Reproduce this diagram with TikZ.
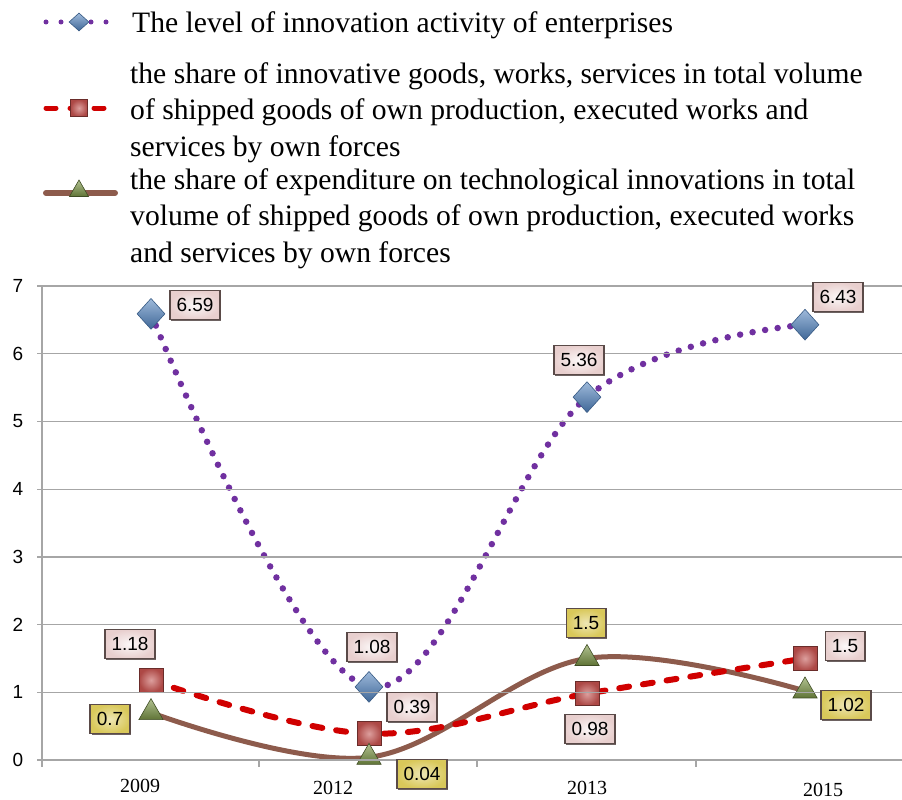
\documentclass[tikz,border=0pt]{standalone}
\usepackage{fontspec}
\setmainfont{Liberation Serif}
\setsansfont{Liberation Sans}
\usetikzlibrary{shapes.geometric}
\usetikzlibrary{shadows}
\pgfdeclarelayer{edgelayer}
\pgfdeclarelayer{nodelayer}
\pgfsetlayers{edgelayer,nodelayer,main}
\definecolor{innovpurple}{HTML}{7030A0}
\definecolor{sharered}{HTML}{D00000}
\definecolor{expendbrown}{HTML}{8D5B4C}
\definecolor{gridgray}{HTML}{A6A6A6}
\definecolor{diamondblue}{HTML}{4F81BD}
\definecolor{squarered}{HTML}{C0504D}
\definecolor{triangleolive}{HTML}{7F9A48}
\definecolor{labelpink}{HTML}{E8CFCE}
\definecolor{labelyellow}{HTML}{D9C85A}
\definecolor{labelborder}{HTML}{5A4A48}
\tikzstyle{grid_line}=[draw=gridgray,line width=1.3pt]
\tikzstyle{innov_line}=[draw=innovpurple,line width=6.5pt,line cap=round,dash pattern=on 0pt off 12.7pt]
\tikzstyle{share_line}=[draw=sharered,line width=6pt,line cap=round,dash pattern=on 10pt off 14pt]
\tikzstyle{expend_line}=[draw=expendbrown,line width=5pt]
\tikzstyle{diamond_mark}=[diamond,inner sep=0pt,minimum width=28pt,minimum height=31pt,top color=diamondblue!55!white,bottom color=diamondblue!80!black,draw=diamondblue!70!black,line width=0.6pt]
\tikzstyle{square_mark}=[rectangle,inner sep=0pt,minimum size=24pt,inner color=squarered!55!white,outer color=squarered!90!black,draw=squarered!55!black,line width=0.6pt]
\tikzstyle{triangle_mark}=[regular polygon,regular polygon sides=3,inner sep=0pt,minimum size=28pt,top color=triangleolive!60!white,bottom color=triangleolive!75!black,draw=triangleolive!50!black,line width=0.6pt]
\tikzstyle{pink_label}=[rectangle,font=\sffamily\fontsize{19}{19}\selectfont,inner xsep=6.5pt,minimum height=29pt,inner color=white!85!labelpink,outer color=labelpink,draw=labelborder,line width=1.6pt,drop shadow={shadow xshift=1.4pt,shadow yshift=-1.4pt,fill=labelborder!80!black,opacity=0.8}]
\tikzstyle{yellow_label}=[pink_label,inner color=labelyellow!45!white,outer color=labelyellow]
\tikzstyle{legend_text}=[anchor=north west,align=left,inner sep=0pt,font=\fontsize{29.6}{36.5}\selectfont]

\begin{document}
\begin{tikzpicture}[x=1pt,y=-1pt]
	\useasboundingbox (0,0) rectangle (902,800);
	% grid and axes
	\foreach \v in {0,...,7} {
		\draw [style=grid_line] (37,{760-67.7*\v}) -- (902,{760-67.7*\v});
		\node [font=\sffamily\fontsize{19}{19}\selectfont] at (18,{760-67.7*\v}) {\v};
	}
	\draw [style=grid_line] (42,286) -- (42,767);
	\foreach \t in {259,477,696}
		\draw [style=grid_line] (\t,760) -- (\t,767);
	\node [font=\fontsize{20}{20}\selectfont] (30) at (140,786) {2009};
	\node [font=\fontsize{20}{20}\selectfont] (31) at (333,788) {2012};
	\node [font=\fontsize{20}{20}\selectfont] (32) at (587,788) {2013};
	\node [font=\fontsize{20}{20}\selectfont] (33) at (823,790) {2015};
	\begin{scope}[shift={(0,760)},y=67.7pt]
		\begin{pgfonlayer}{nodelayer}
			\node [style={diamond_mark}] (0) at (151, 6.59) {};
			\node [style={diamond_mark}] (1) at (369, 1.08) {};
			\node [style={diamond_mark}] (2) at (587, 5.36) {};
			\node [style={diamond_mark}] (3) at (805, 6.43) {};
			\node [style={square_mark}] (4) at (151, 1.18) {};
			\node [style={square_mark}] (5) at (369, 0.39) {};
			\node [style={square_mark}] (6) at (587, 0.98) {};
			\node [style={square_mark}] (7) at (805, 1.5) {};
			\node [style={triangle_mark}] (8) at (151, 0.7) {};
			\node [style={triangle_mark}] (9) at (369, 0.04) {};
			\node [style={triangle_mark}] (10) at (587, 1.5) {};
			\node [style={triangle_mark}] (11) at (805, 1.02) {};
		\end{pgfonlayer}
		\begin{pgfonlayer}{edgelayer}
			\draw [style=expend_line] plot [smooth, tension=0.6] coordinates {(8.center) (9.center) (10.center) (11.center)};
			\draw [style=share_line] plot [smooth, tension=0.6] coordinates {(4.center) (5.center) (6.center) (7.center)};
			\draw [style=innov_line] plot [smooth, tension=0.6] coordinates {(0.center) (1.center) (2.center) (3.center)};
		\end{pgfonlayer}
	\end{scope}
	% value labels
	\node [style={pink_label}] (12) at (195, 305) {6.59};
	\node [style={pink_label}] (13) at (372, 647) {1.08};
	\node [style={pink_label}] (14) at (579, 360) {5.36};
	\node [style={pink_label}] (15) at (838, 297) {6.43};
	\node [style={pink_label}] (16) at (130, 644) {1.18};
	\node [style={pink_label}] (17) at (412, 707) {0.39};
	\node [style={pink_label}] (18) at (590, 729) {0.98};
	\node [style={pink_label}] (19) at (845, 646) {1.5};
	\node [style={yellow_label}] (20) at (110, 719) {0.7};
	\node [style={yellow_label}] (21) at (422, 774) {0.04};
	\node [style={yellow_label}] (22) at (586, 623) {1.5};
	\node [style={yellow_label}] (23) at (846, 705) {1.02};
	% legend
	\coordinate (40) at (46, 22);
	\coordinate (41) at (113, 22);
	\coordinate (42) at (46, 108);
	\coordinate (43) at (113, 108);
	\coordinate (44) at (46, 193);
	\coordinate (45) at (115, 193);
	\draw [style=innov_line, line width=5pt, dash pattern=on 0pt off 15pt] (40) -- (41);
	\draw [style=share_line, line width=5pt] (42) -- (43);
	\draw [style=expend_line, line width=6pt, line cap=round] (44) -- (45);
	\node [style={diamond_mark}, minimum width=20pt, minimum height=18pt] (24) at (79, 22) {};
	\node [style={square_mark}, minimum size=17pt] (25) at (79, 108) {};
	\node [style={triangle_mark}, minimum size=22pt] (26) at (79, 191) {};
	\node [style={legend_text}] (27) at (132, 11) {The level of innovation activity of enterprises};
	\node [style={legend_text}] (28) at (130, 62) {the share of innovative goods, works, services in total volume\\of shipped goods of own production, executed works and\\services by own forces};
	\node [style={legend_text}] (29) at (130, 168) {the share of expenditure on technological innovations in total\\volume of shipped goods of own production, executed works\\and services by own forces};
\end{tikzpicture}
\end{document}
